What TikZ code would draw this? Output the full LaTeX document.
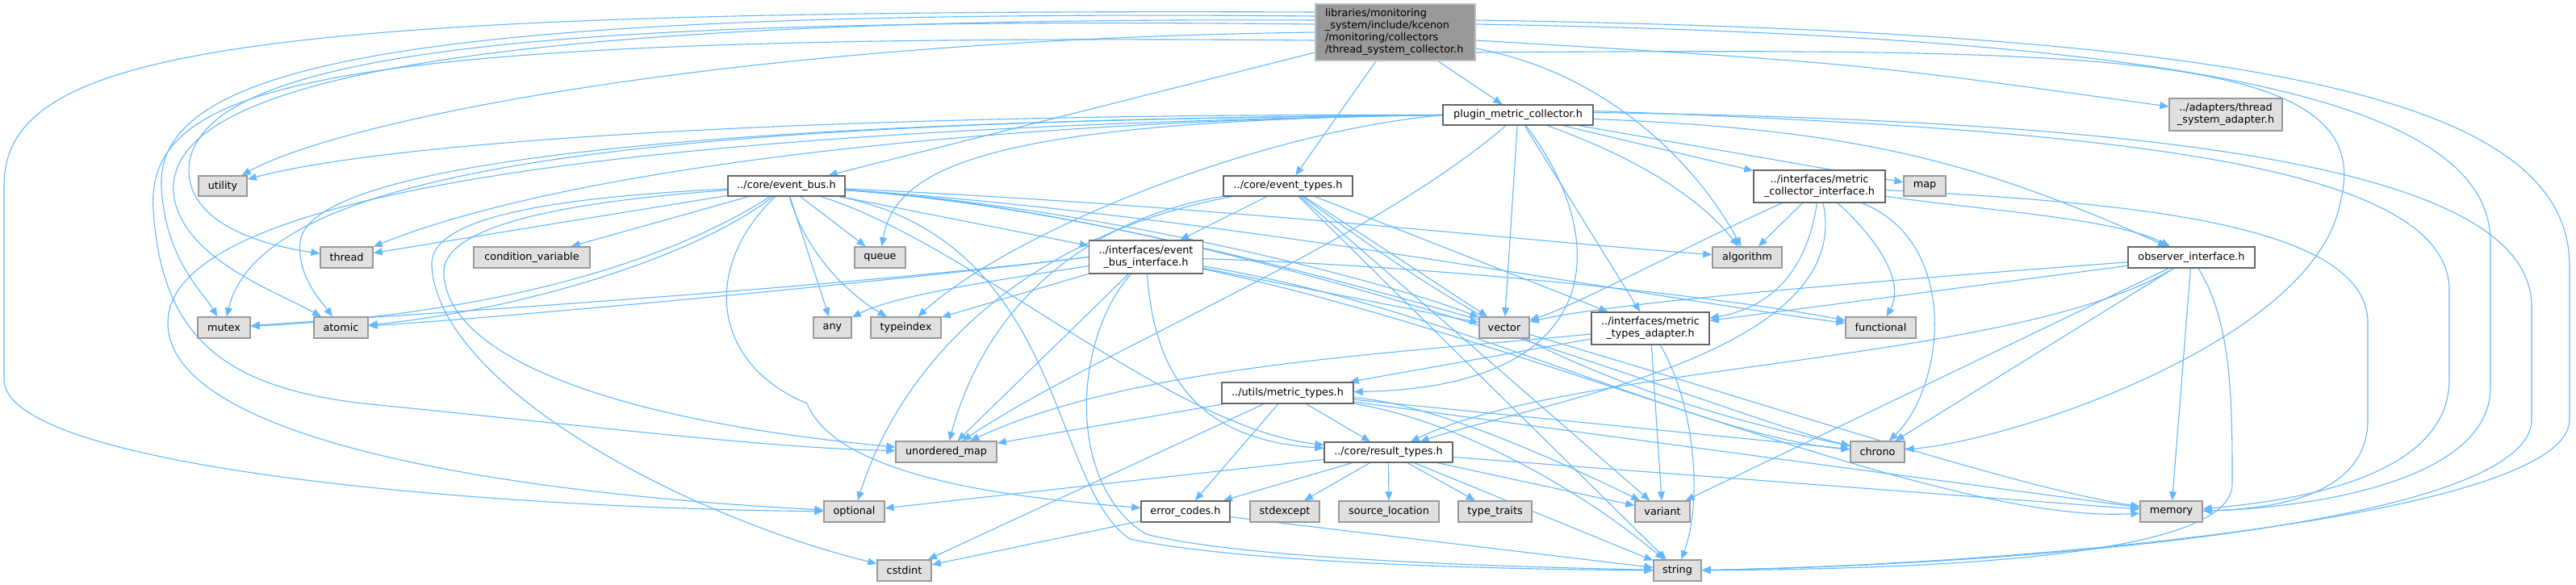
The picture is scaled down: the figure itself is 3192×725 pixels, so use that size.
\documentclass[tikz,border=0pt]{standalone}
\usepackage{fontspec}
\setmainfont{DejaVu Sans}
\usetikzlibrary{arrows.meta,calc}
\pgfdeclarelayer{back}
\pgfdeclarelayer{edges}
\pgfsetlayers{back,edges,main}
\definecolor{eb}{RGB}{99,184,255}
\definecolor{sysfill}{HTML}{E0E0E0}
\definecolor{sysdraw}{HTML}{999999}
\definecolor{hdrdraw}{HTML}{666666}
\definecolor{rootfill}{HTML}{999999}
\definecolor{rootdraw}{HTML}{BFBFBF}
\begin{document}
\begin{tikzpicture}[x=1pt,y=-1pt,
  box/.style={rectangle,inner sep=0pt,line width=1.4pt,font=\fontsize{12.8}{15}\selectfont,align=center,minimum height=26pt},
  sys/.style={box,fill=sysfill,draw=sysdraw},
  hdr/.style={box,fill=white,draw=hdrdraw},
  root/.style={box,fill=rootfill,draw=rootdraw,align=left,text width=174pt,minimum width=198pt,minimum height=70pt},
  ed/.style={draw=eb,line width=1.1pt,-{Triangle[length=11pt,width=9pt]}}]
\useasboundingbox (0,0) rectangle (3192,725);
\begin{pgfonlayer}{back}
\fill[white] (0,0) rectangle (3192,725);
\end{pgfonlayer}
% nodes
\node[root] (main) at (1729,40) {libraries/monitoring\\\_system/include/kcenon\\/monitoring/collectors\\/thread\_system\_collector.h};
\node[hdr,minimum width=186pt,minimum height=25pt] (plugin) at (1881,142.5) {plugin\_metric\_collector.h};
\node[sys,minimum width=140pt,minimum height=40pt] (adapters) at (2758,142) {../adapters/thread\\\_system\_adapter.h};
\node[hdr,minimum width=145pt,minimum height=25pt] (event_bus) at (974.5,230.5) {../core/event\_bus.h};
\node[hdr,minimum width=160pt,minimum height=25pt] (event_types) at (1596,230.5) {../core/event\_types.h};
\node[hdr,minimum width=163pt,minimum height=40pt] (mci) at (2254.5,231) {../interfaces/metric\\\_collector\_interface.h};
\node[sys,minimum width=52pt,minimum height=25pt] (map) at (2385,230.5) {map};
\node[sys,minimum width=60pt,minimum height=25pt] (utility) at (276,230.5) {utility};
\node[sys,minimum width=65pt] (thread) at (429.5,319) {thread};
\node[sys,minimum width=144pt] (condvar) at (659,319) {condition\_variable};
\node[sys,minimum width=63pt] (queue) at (1090.5,319) {queue};
\node[hdr,minimum width=141pt,minimum height=41pt] (ebi) at (1420,318.5) {../interfaces/event\\\_bus\_interface.h};
\node[sys,minimum width=86pt] (algorithm) at (2165,319) {algorithm};
\node[hdr,minimum width=157pt] (observer) at (2715.5,319) {observer\_interface.h};
\node[sys,minimum width=65pt] (mutex) at (277.5,406) {mutex};
\node[sys,minimum width=67pt] (atomic) at (422.5,406) {atomic};
\node[sys,minimum width=47pt] (any) at (1031.5,406) {any};
\node[sys,minimum width=87pt] (typeindex) at (1122.5,406) {typeindex};
\node[sys,minimum width=62pt] (vector) at (1864,406) {vector};
\node[hdr,minimum width=146pt,minimum height=40pt] (mta) at (2045,407) {../interfaces/metric\\\_types\_adapter.h};
\node[sys,minimum width=87pt] (functional) at (2330.5,406) {functional};
\node[hdr,minimum width=163pt] (mt) at (1595.5,487) {../utils/metric\_types.h};
\node[sys,minimum width=125pt] (unordered_map) at (1172.5,560) {unordered\_map};
\node[hdr,minimum width=159pt,minimum height=25pt] (result) at (1720.5,560.5) {../core/result\_types.h};
\node[sys,minimum width=67pt] (chrono) at (2326.5,560) {chrono};
\node[sys,minimum width=75pt] (optional) at (1058.5,634) {optional};
\node[hdr,minimum width=110pt] (errcodes) at (1469,634) {error\_codes.h};
\node[sys,minimum width=86pt] (stdexcept) at (1592,634) {stdexcept};
\node[sys,minimum width=124pt] (srcloc) at (1721,634) {source\_location};
\node[sys,minimum width=91pt] (typetraits) at (1852.5,634) {type\_traits};
\node[sys,minimum width=68pt] (variant) at (2060,634) {variant};
\node[sys,minimum width=77pt] (memory) at (2690.5,634) {memory};
\node[sys,minimum width=67pt] (cstdint) at (1120.5,707) {cstdint};
\node[sys,minimum width=59pt] (string) at (2078.5,707) {string};
\begin{pgfonlayer}{edges}
% main
\draw[ed] (main) -- (plugin);
\draw[ed] ($(main.west)+(0,25)$) -- (event_bus);
\draw[ed] ($(main.south)+(-24,0)$) -- (event_types);
\draw[ed] ($(main.east)+(0,10)$) .. controls (2300,78) .. (adapters);
\draw[ed] (main.west) .. controls (900,50) and (420,150) .. (utility);
\draw[ed] ($(main.west)+(0,-10)$) .. controls (700,20) and (260,60) .. (235,200) .. controls (225,265) and (300,300) .. (thread);
\draw[ed] ($(main.west)+(0,-20)$) .. controls (500,10) and (195,80) .. (200,230) .. controls (204,320) and (250,360) .. (mutex);
\draw[ed] ($(main.west)+(0,-15)$) .. controls (520,20) and (205,110) .. (215,240) .. controls (225,320) and (340,360) .. (atomic);
\draw[ed] ($(main.west)+(0,10)$) .. controls (400,40) and (180,100) .. (190,260) .. controls (200,420) and (280,480) .. (450,500) .. controls (750,530) and (950,555) .. (unordered_map);
\draw[ed] ($(main.west)+(0,-25)$) .. controls (300,10) and (5,60) .. (5,230) -- (5,470) .. controls (5,580) and (600,630) .. (optional);
\draw[ed] ($(main.east)+(0,20)$) .. controls (1990,90) and (2100,200) .. (algorithm);
\draw[ed] ($(main.east)+(0,-10)$) .. controls (2700,45) and (3086,120) .. (3086,300) -- (3086,480) .. controls (3086,600) and (2850,630) .. (memory);
\draw[ed] ($(main.east)+(0,-15)$) .. controls (2800,40) and (3184,120) .. (3184,330) -- (3184,520) .. controls (3184,640) and (2500,700) .. (string);
\draw[ed] ($(main.east)+(0,25)$) .. controls (2600,60) and (2950,60) .. (2900,250) .. controls (2870,420) and (2500,545) .. (chrono);
% plugin
\draw[ed] (plugin) -- (map);
\draw[ed] (plugin) -- (mci);
\draw[ed] ($(plugin.east)+(0,5)$) .. controls (2300,160) and (2450,200) .. (observer);
\draw[ed] (plugin) -- (mta);
\draw[ed] (plugin) .. controls (2000,300) and (1990,480) .. (mt);
\draw[ed] (plugin.west) .. controls (1100,140) and (500,170) .. (utility);
\draw[ed] (plugin.west) .. controls (1200,150) and (700,210) .. (thread);
\draw[ed] (plugin.west) .. controls (900,150) and (330,190) .. (mutex);
\draw[ed] (plugin.west) .. controls (700,150) and (380,220) .. (372,300) .. controls (368,340) and (395,370) .. (atomic);
\draw[ed] (plugin) .. controls (1700,300) and (1350,440) .. (unordered_map);
\draw[ed] (plugin.west) .. controls (700,160) and (208,250) .. (208,400) .. controls (208,540) and (600,610) .. (optional);
\draw[ed] (plugin.west) .. controls (1250,150) and (1110,200) .. (queue);
\draw[ed] (plugin.west) .. controls (1550,165) and (1250,290) .. (typeindex);
\draw[ed] (plugin) .. controls (2040,200) and (2110,250) .. (algorithm);
\draw[ed] (plugin) -- (vector);
\draw[ed] ($(plugin.east)+(0,-5)$) .. controls (2600,160) and (3035,200) .. (3035,360) -- (3035,470) .. controls (3035,590) and (2850,620) .. (memory);
\draw[ed] ($(plugin.east)+(0,-3)$) .. controls (2750,150) and (3137,220) .. (3137,380) -- (3137,520) .. controls (3137,650) and (2500,700) .. (string);
% event_bus
\draw[ed] (event_bus) -- (thread);
\draw[ed] (event_bus) -- (condvar);
\draw[ed] (event_bus) .. controls (820,330) and (600,390) .. (mutex);
\draw[ed] (event_bus) .. controls (860,320) and (640,385) .. (atomic);
\draw[ed] (event_bus) -- (queue);
\draw[ed] (event_bus) -- (any);
\draw[ed] (event_bus) .. controls (1000,320) and (1060,370) .. (typeindex);
\draw[ed] (event_bus) -- (ebi);
\draw[ed] (event_bus) .. controls (700,250) and (545,280) .. (550,340) .. controls (555,440) and (750,520) .. (unordered_map);
\draw[ed] (event_bus) .. controls (680,245) and (530,270) .. (535,330) .. controls (545,480) and (850,640) .. (cstdint);
\draw[ed] (event_bus) .. controls (1200,300) and (1450,530) .. (result);
\draw[ed] (event_bus) .. controls (870,330) and (880,450) .. (1000,500) .. controls (1040,600) and (1300,620) .. (errcodes);
\draw[ed] (event_bus) .. controls (1500,255) and (1850,295) .. (algorithm);
\draw[ed] (event_bus) .. controls (1400,260) and (1750,360) .. (vector);
\draw[ed] (event_bus) .. controls (1500,265) and (2050,370) .. (functional);
\draw[ed] (event_bus) .. controls (1550,270) and (2150,520) .. (chrono);
\draw[ed] (event_bus) .. controls (1600,275) and (2350,580) .. (memory);
\draw[ed] (event_bus) .. controls (1320,300) and (1300,600) .. (1400,668) .. controls (1550,700) and (1900,706) .. (string);
% event_types
\draw[ed] (event_types) -- (ebi);
\draw[ed] (event_types) -- (mta);
\draw[ed] (event_types) -- (vector);
\draw[ed] (event_types) .. controls (1800,380) and (1950,480) .. (chrono);
\draw[ed] (event_types) -- (variant);
\draw[ed] (event_types) -- (string);
\draw[ed] (event_types) .. controls (1380,265) and (1230,350) .. (unordered_map);
\draw[ed] (event_types) .. controls (1280,290) and (1120,440) .. (optional);
% event bus interface
\draw[ed] (ebi) .. controls (1430,460) and (1480,545) .. (result);
\draw[ed] (ebi) .. controls (1250,345) and (1110,365) .. (any);
\draw[ed] (ebi) -- (typeindex);
\draw[ed] (ebi.west) .. controls (1000,360) and (500,390) .. (mutex);
\draw[ed] (ebi.west) .. controls (1050,355) and (600,395) .. (atomic);
\draw[ed] (ebi) -- (unordered_map);
\draw[ed] (ebi) -- (vector);
\draw[ed] (ebi) .. controls (1800,330) and (2150,370) .. (functional);
\draw[ed] (ebi) .. controls (1800,380) and (2100,540) .. (chrono);
\draw[ed] (ebi) .. controls (1900,420) and (2400,650) .. (memory);
\draw[ed] (ebi) .. controls (1330,420) and (1320,600) .. (1420,662) .. controls (1550,695) and (1900,703) .. (string);
% metric collector interface
\draw[ed] (mci) -- (algorithm);
\draw[ed] (mci) .. controls (2450,260) and (2620,270) .. (observer);
\draw[ed] (mci) .. controls (2240,330) and (2200,380) .. (mta);
\draw[ed] (mci) .. controls (2300,440) and (1900,500) .. (result);
\draw[ed] (mci) .. controls (2330,300) and (2360,350) .. (functional);
\draw[ed] (mci) .. controls (2430,300) and (2410,480) .. (chrono);
\draw[ed] (mci) .. controls (2100,300) and (1950,380) .. (vector);
\draw[ed] (mci) .. controls (2600,250) and (2934,270) .. (2934,400) -- (2934,520) .. controls (2934,600) and (2850,630) .. (memory);
% observer
\draw[ed] (observer) -- (mta);
\draw[ed] (observer) .. controls (2500,450) and (1950,450) .. (result);
\draw[ed] (observer) -- (chrono);
\draw[ed] (observer) -- (variant);
\draw[ed] (observer) -- (memory);
\draw[ed] (observer) .. controls (2766,400) and (2766,500) .. (2766,600) .. controls (2766,690) and (2400,705) .. (string);
\draw[ed] (observer) .. controls (2300,350) and (2000,375) .. (vector);
% metric types adapter
\draw[ed] (mta) -- (mt);
\draw[ed] (mta) .. controls (1700,440) and (1400,455) .. (unordered_map);
\draw[ed] (mta) -- (variant);
\draw[ed] (mta) .. controls (2100,500) and (2110,620) .. (string);
% metric types
\draw[ed] (mt) -- (result);
\draw[ed] (mt) -- (errcodes);
\draw[ed] (mt) -- (unordered_map);
\draw[ed] (mt) -- (cstdint);
\draw[ed] (mt) -- (chrono);
\draw[ed] (mt) .. controls (1780,500) and (1950,580) .. (variant);
\draw[ed] (mt) .. controls (1800,520) and (1950,600) .. (string);
\draw[ed] (mt) -- (memory);
% result types
\draw[ed] (result) -- (errcodes);
\draw[ed] (result) -- (stdexcept);
\draw[ed] (result) -- (srcloc);
\draw[ed] (result) -- (typetraits);
\draw[ed] (result) -- (variant);
\draw[ed] (result) -- (optional);
\draw[ed] (result) -- (memory);
\draw[ed] (result) -- (string);
% error codes
\draw[ed] (errcodes) -- (cstdint);
\draw[ed] (errcodes) -- (string);
\end{pgfonlayer}
\end{tikzpicture}
\end{document}
